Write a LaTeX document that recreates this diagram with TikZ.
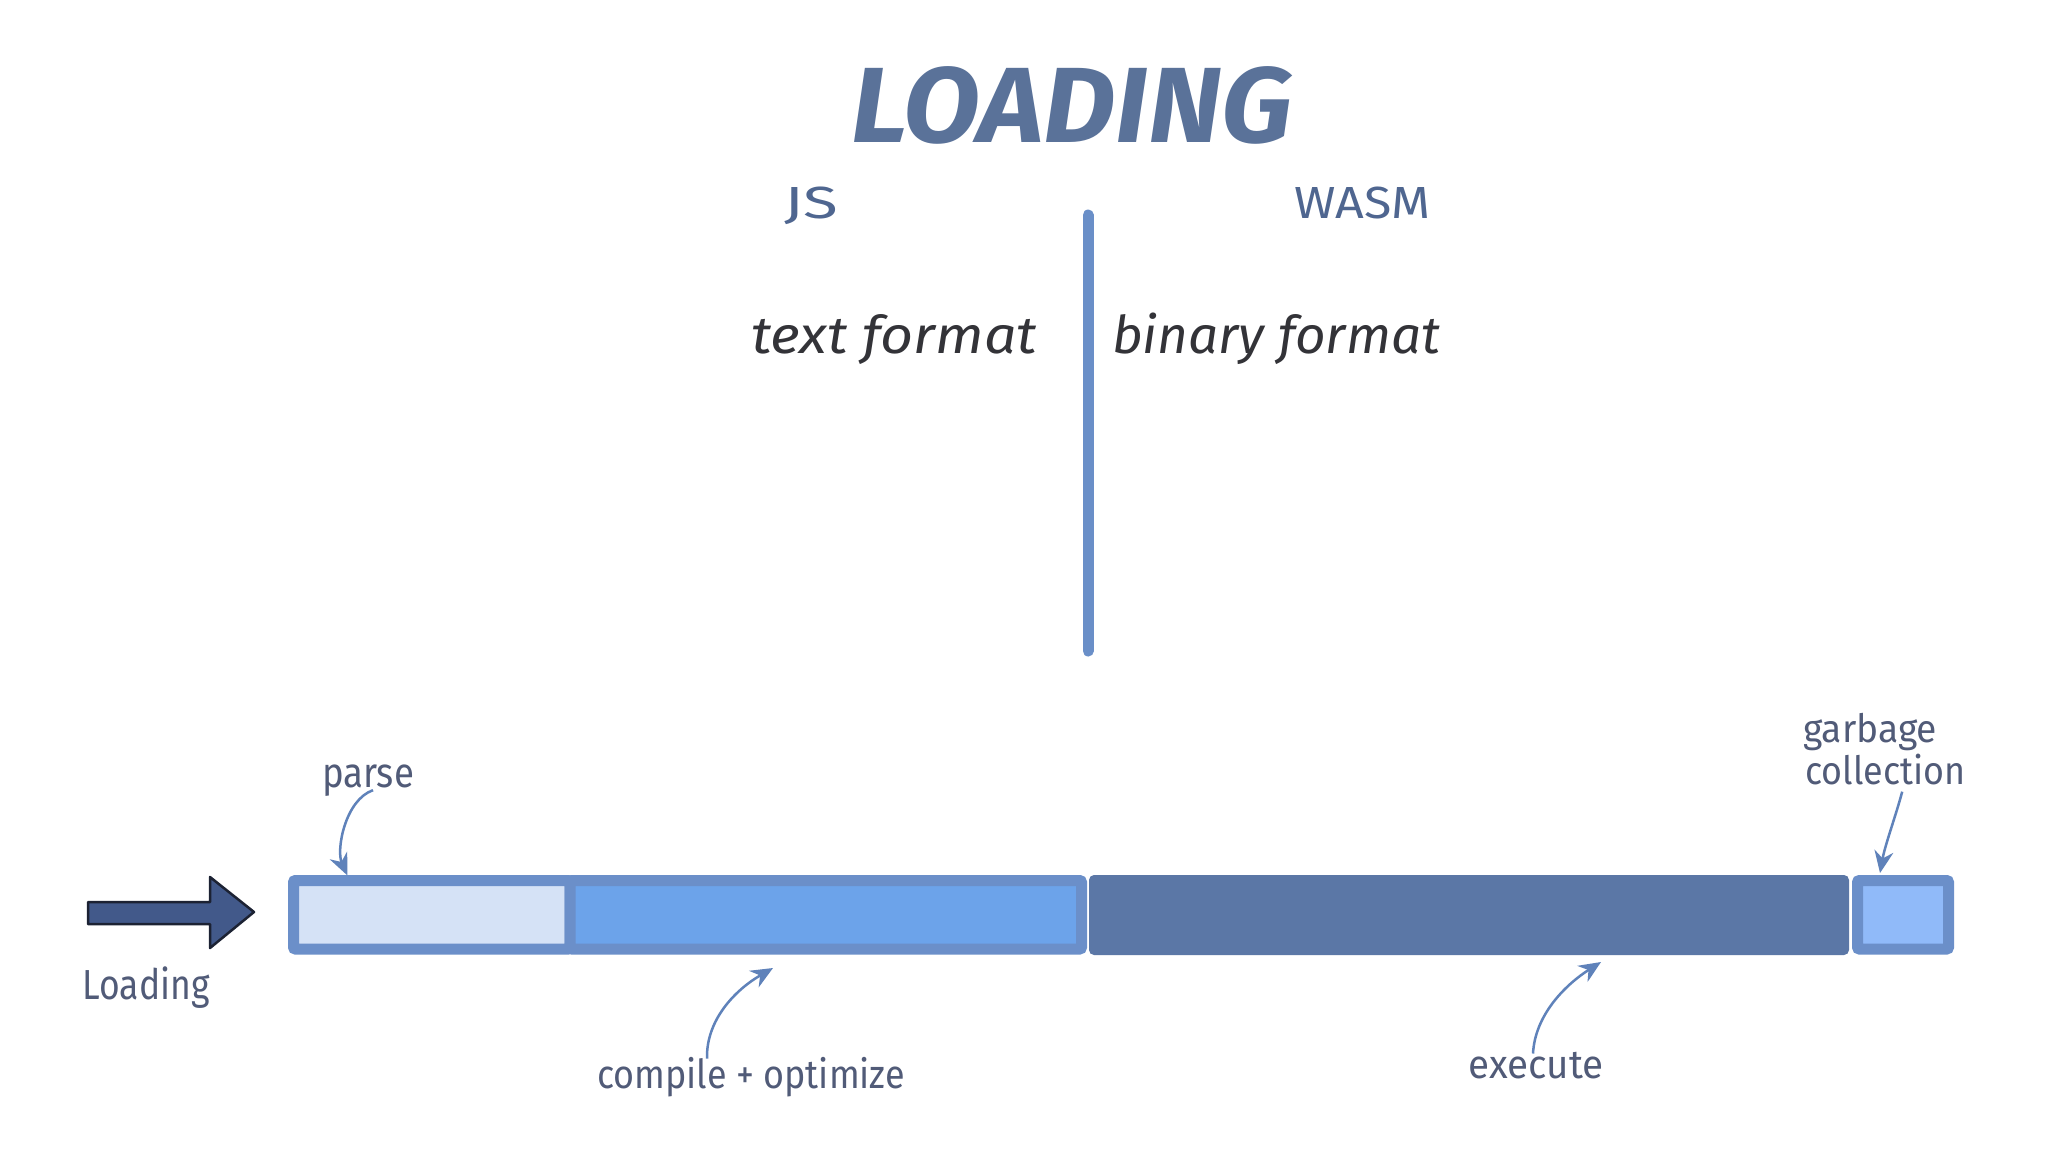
\documentclass[tikz,border=0pt]{standalone}
\usepackage{graphicx}
\usepackage{fontspec}
\setmainfont{Fira Sans}
\usetikzlibrary{arrows.meta,calc}
\definecolor{titlec}{HTML}{5A7299}
\definecolor{headc}{HTML}{4F6690}
\definecolor{labelc}{HTML}{515B78}
\definecolor{darkc}{HTML}{333338}
\definecolor{linec}{HTML}{6A8FC8}
\definecolor{borderc}{HTML}{6B8FC9}
\definecolor{parsefill}{HTML}{D5E2F6}
\definecolor{compfill}{HTML}{6CA3EA}
\definecolor{execfill}{HTML}{5B77A6}
\definecolor{gcfill}{HTML}{90BAF9}
\definecolor{arrowfill}{HTML}{42598A}
\definecolor{arrowline}{HTML}{1C2233}
\definecolor{connc}{HTML}{5F82BA}
\newsavebox\fitbox
\newcommand\fitto[2]{\sbox\fitbox{#2}\pgfmathsetmacro\fitratio{#1/\the\wd\fitbox}\scalebox{\fitratio}[1]{\usebox\fitbox}}
\tikzset{
  titlestyle/.style={text=titlec, inner sep=0pt, anchor=base, font=\fontsize{107pt}{110pt}\selectfont\bfseries\itshape},
  head/.style={text=headc, inner sep=0pt, anchor=base, font=\fontsize{45pt}{48pt}\selectfont},
  fmt/.style={text=darkc, inner sep=0pt, anchor=base, font=\fontsize{52pt}{54pt}\selectfont\itshape},
  lbl/.style={text=labelc, inner sep=0pt, anchor=base, font=\fontsize{42pt}{44pt}\selectfont},
  lbltwo/.style={text=labelc, inner sep=0pt, anchor=base, font=\fontsize{40pt}{44pt}\selectfont},
  gclbl/.style={text=labelc, inner sep=0pt, anchor=base west, font=\fontsize{39pt}{42pt}\selectfont},
  cell/.style={draw=borderc, line width=11pt, inner sep=0pt, outer sep=0pt, rounded corners=2pt},
  divider/.style={draw=linec, line width=11pt, line cap=round},
  conn/.style={draw=connc, line width=2.5pt, -{Stealth[length=22pt,width=19pt]}},
  bigarrow/.style={fill=arrowfill, draw=arrowline, line width=2.5pt, line join=round}
}
\begin{document}
\begin{tikzpicture}[x=1pt,y=-1pt]
\useasboundingbox[fill=white] (0,0) rectangle (2048,1152);
% headings
\node[titlestyle] (title) at (1072,142) {\fitto{441}{LOADING}};
\node[head] (js) at (811,218) {\fitto{54}{JS}};
\node[head] (wasm) at (1362,218) {\fitto{136}{WASM}};
\coordinate (divtop) at (1088,215);
\coordinate (divbot) at (1088,651);
\draw[divider] (divtop) -- (divbot);
\node[fmt] (textfmt) at (894,353) {\fitto{286}{text format}};
\node[fmt] (binfmt) at (1276,353) {\fitto{328}{binary format}};
% bar
\node[cell, fill=parsefill, minimum width=276.5pt, minimum height=68.5pt] (parsebox) at (431.75,914.75) {};
\node[cell, fill=compfill, minimum width=511.5pt, minimum height=68.5pt] (compbox) at (825.75,914.75) {};
\node[fill=execfill, rounded corners=5pt, minimum width=760pt, minimum height=80pt, inner sep=0pt, outer sep=0pt] (execbox) at (1469,915) {};
\node[cell, fill=gcfill, minimum width=91pt, minimum height=68.5pt] (gcbox) at (1903,914.75) {};
% input arrow
\draw[bigarrow] (88,902) -- (210,902) -- (210,877) -- (254,912) -- (210,948) -- (210,924) -- (88,924) -- cycle;
% labels
\node[lbl] (loading) at (146,999) {\fitto{127}{Loading}};
\node[lbl] (parse) at (368,787) {\fitto{92}{parse}};
\node[lbltwo] (compile) at (751,1088) {\fitto{308}{compile + optimize}};
\node[lbltwo] (execute) at (1536,1078) {\fitto{135}{execute}};
\node[gclbl] (gcone) at (1803,742) {\fitto{134}{garbage}};
\node[gclbl] (gctwo) at (1805,784) {\fitto{160}{collection}};
% connectors
\draw[conn] ($(parse.south)+(5,-6)$) .. controls (345,800) and (336,850) .. ($(parsebox.north west)+(54,-5)$);
\draw[conn] ($(compile.north)+(-44,2)$) .. controls (706,1020) and (735,990) .. ($(compbox.south west)+(203,19)$);
\draw[conn] ($(execute.north)+(-3,2)$) .. controls (1535,1015) and (1565,985) .. ($(execbox.south west)+(512,7)$);
\draw[conn] ($(gctwo.south)+(17,7)$) .. controls (1896,815) and (1885,845) .. ($(gcbox.north west)+(22.5,-7.5)$);
\end{tikzpicture}
\end{document}
